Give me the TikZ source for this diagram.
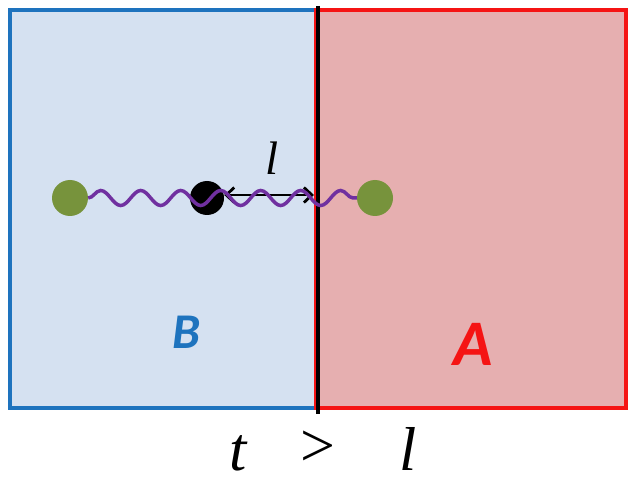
\documentclass[tikz,border=0pt]{standalone}
\usepackage{fontspec}
\newfontfamily\regionfont{Carlito}
\newfontfamily\eqfont{Liberation Serif}
\usetikzlibrary{arrows.meta,decorations.pathmorphing}
\definecolor{regionBlue}{HTML}{1E73BE}
\definecolor{regionBlueFill}{HTML}{D5E1F1}
\definecolor{regionRed}{HTML}{F51414}
\definecolor{regionRedFill}{HTML}{E6AFB0}
\definecolor{dotGreen}{HTML}{77933C}
\definecolor{wavePurple}{HTML}{7030A0}
\tikzset{
  region/.style={line width=4pt,minimum height=398pt,inner sep=0pt},
  divider/.style={line width=4pt,black},
  dot/.style={circle,inner sep=0pt,minimum size=36pt},
  span/.style={{Straight Barb[length=8pt,width=15pt]}-{Straight Barb[length=8pt,width=15pt]},line width=2.8pt,black},
  wave/.style={wavePurple,line width=3.5pt,decorate,
    decoration={snake,segment length=40pt,amplitude=7.5pt}},
  regionlabel/.style={anchor=base,inner sep=0pt,font=\regionfont\bfseries\itshape},
  eqlabel/.style={anchor=base,inner sep=0pt,font=\eqfont\itshape\fontsize{62}{66}\selectfont}
}
\begin{document}
\begin{tikzpicture}[x=1pt,y=-1pt]
  \useasboundingbox (0,0) rectangle (635,484);
  \node[region,draw=regionBlue,fill=regionBlueFill,minimum width=306pt] (boxB) at (163,209) {};
  \node[region,draw=regionRed,fill=regionRedFill,minimum width=310pt] (boxA) at (471,209) {};
  \draw[divider] ([yshift=2pt]boxB.north east) -- ([yshift=-4pt]boxB.south east);

  \node[dot,fill=black,minimum size=34pt] (mid) at (207,198) {};
  \node[dot,fill=dotGreen] (endL) at (70,198) {};
  \node[dot,fill=dotGreen] (endR) at (375,198) {};
  \draw[span,shorten >=4pt] ([yshift=3pt]mid.east) -- ([yshift=3pt]mid.east -| boxB.east);
  \node[eqlabel,font=\eqfont\itshape\fontsize{47}{50}\selectfont] (len) at (272,175) {l};
  \draw[wave] (endL) -- (endR);

  \node[regionlabel,text=regionBlue,font=\regionfont\bfseries\itshape\fontsize{50}{55}\selectfont] (labB) at (187,348) {B};
  \node[regionlabel,text=regionRed,font=\regionfont\bfseries\itshape\fontsize{65}{70}\selectfont] (labA) at (473,365) {A};

  \node[eqlabel] (tvar) at (238,470) {t};
  \node[eqlabel,font=\eqfont\fontsize{62}{66}\selectfont] (gt) at (318,466) {>};
  \node[eqlabel] (lvar) at (408,470) {l};
\end{tikzpicture}
\end{document}
